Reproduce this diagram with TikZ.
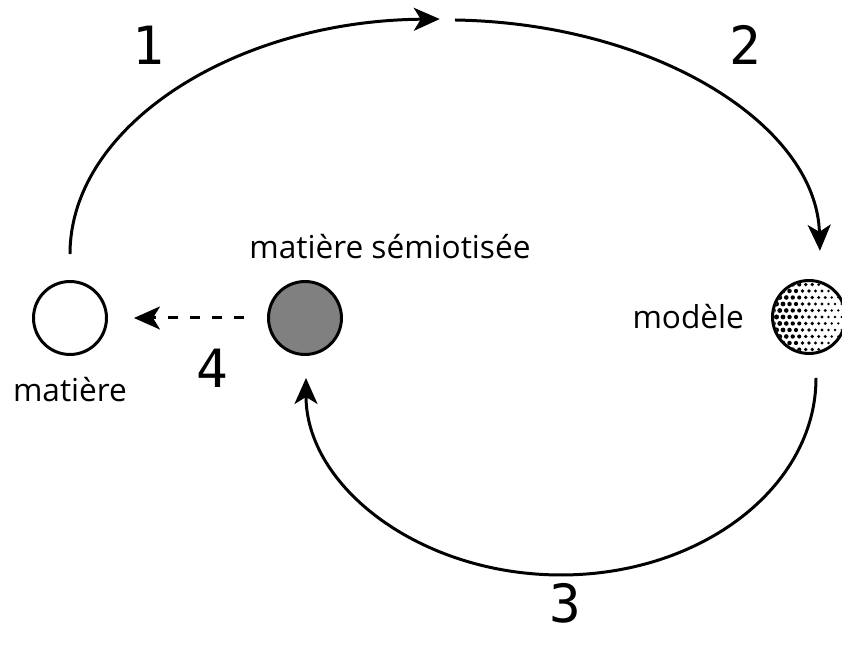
\documentclass[tikz,border=0pt]{standalone}
\usepackage{fontspec}
\setmainfont{Open Sans}
\newfontfamily\digitfont{DejaVu Sans Mono}
\usetikzlibrary{arrows.meta, positioning}

\begin{document}
\begin{tikzpicture}[
x=0.02cm, y=0.02cm,
node distance=0.3cm,
blob/.style={draw, circle, line width=1.7pt, minimum size=1.46cm, inner sep=0pt},
word/.style={font=\fontsize{18}{21}\selectfont, inner sep=1pt},
num/.style={font=\digitfont\fontsize{30}{34}\selectfont},
arrow/.style={-{Stealth[length=0.52cm, width=0.46cm, inset=0.14cm]}, line width=1.7pt}
]

\useasboundingbox (0,0) rectangle (842,645);

\node[blob] (matiere) at (70,327) {};
\node[blob, fill=black!50] (semio) at (305,327) {};
\node[blob] (modele) at (809,328) {};

% halftone dots of the model
\begin{scope}
\clip (modele.center) circle (35);
\foreach \i in {0,...,12}
  \foreach \j in {0,...,12} {
    \pgfmathsetmacro\dx{-39 + \i*6.5 + mod(\j,2)*3.25}
    \pgfmathsetmacro\dy{-39 + \j*6.5}
    \pgfmathsetmacro\rr{2.6 - 1.5*(\dx+37)/74}
    \fill ([xshift=\dx*0.02cm, yshift=\dy*0.02cm]modele.center) circle (\rr);
  }
\end{scope}

\node[word, below=0.38cm of matiere] (lmatiere) {matière};
\node[word, above=0.38cm of semio, xshift=1.7cm] (lsemio) {matière sémiotisée};
\node[word, left=0.5cm of modele] (lmodele) {modèle};

\coordinate (top) at (445,625);

\draw[arrow] ([yshift=0.52cm]matiere.north)
  arc[start angle=180, end angle=90.8, x radius=375, y radius=235];
\draw[arrow] ([xshift=0.2cm]top)
  arc[start angle=88.47, end angle=1, x radius=375, y radius=235];
\draw[arrow] ([xshift=0.14cm, yshift=-0.46cm]modele.south)
  arc[start angle=0, end angle=-180, x radius=255, y radius=197];
\draw[arrow, dash pattern=on 0.2cm off 0.24cm,
  shorten <=0.46cm, shorten >=0.52cm] (semio) -- (matiere);

\node[num] (one) at (148,600) {1};
\node[num] (two) at (745,600) {2};
\node[num] (three) at (565,42) {3};
\node[num] (four) at (212,277) {4};

\end{tikzpicture}
\end{document}
